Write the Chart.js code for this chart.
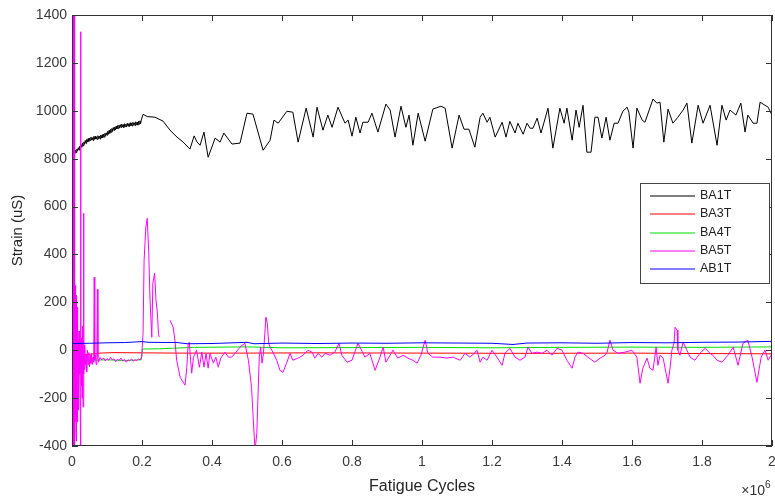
<!DOCTYPE html>
<html>
<head>
<meta charset="utf-8">
<script src="https://cdn.jsdelivr.net/npm/chart.js@4.4.0/dist/chart.umd.min.js"></script>
<style>
  html, body { margin: 0; padding: 0; background: #fff; }
  canvas { display: block; }
</style>
</head>
<body>
<canvas id="strainChart" width="775" height="500"></canvas>
<script>
// fatigue cycles are in units of 10^6
var xTicks = [0, 0.2, 0.4, 0.6, 0.8, 1, 1.2, 1.4, 1.6, 1.8, 2];
var xTickLabels = ['0', '0.2', '0.4', '0.6', '0.8', '1', '1.2', '1.4', '1.6', '1.8', '2'];
var yTicks = [-400, -200, 0, 200, 400, 600, 800, 1000, 1200, 1400];
var yTickLabels = ['-400', '-200', '0', '200', '400', '600', '800', '1000', '1200', '1400'];

var seriesNames = ['BA1T', 'BA3T', 'BA4T', 'BA5T', 'AB1T'];
var seriesColors = ['#000000', '#ff0000', '#00e000', '#ff00ff', '#0000ff'];

var ba1tCycles = [
    0, 0.0015,
    0.004, 0.006, 0.008, 0.010, 0.012, 0.014, 0.016, 0.018, 0.020, 0.022,
    0.024, 0.026, 0.028, 0.030, 0.032, 0.034, 0.036, 0.038, 0.040, 0.042,
    0.044, 0.046, 0.048, 0.050, 0.052, 0.054, 0.056, 0.058, 0.060, 0.062,
    0.064, 0.066, 0.068, 0.070, 0.072, 0.074, 0.076, 0.078, 0.080, 0.082,
    0.084, 0.086, 0.088, 0.090, 0.092, 0.094, 0.096, 0.098, 0.100, 0.102,
    0.104, 0.106, 0.108, 0.110, 0.112, 0.114, 0.116, 0.118, 0.120, 0.122,
    0.124, 0.126, 0.128, 0.130, 0.132, 0.134, 0.136, 0.138, 0.140, 0.142,
    0.144, 0.146, 0.148, 0.150, 0.152, 0.154, 0.156, 0.158, 0.160, 0.162,
    0.164, 0.166, 0.168, 0.170, 0.172, 0.174, 0.176, 0.178, 0.180, 0.182,
    0.184, 0.186, 0.188, 0.190, 0.192, 0.194, 0.196, 0.198,
    0.203, 0.215, 0.237, 0.260, 0.280, 0.300, 0.317, 0.337, 0.349, 0.357, 0.366,
    0.377, 0.389, 0.409, 0.423, 0.434, 0.457, 0.480, 0.500, 0.517, 0.546,
    0.566, 0.577, 0.589, 0.614, 0.631, 0.646, 0.669, 0.689, 0.700, 0.717,
    0.731, 0.743, 0.760, 0.780, 0.789, 0.800, 0.811, 0.823, 0.831, 0.846,
    0.857, 0.874, 0.897, 0.909, 0.923, 0.940, 0.954, 0.963, 0.974, 0.989,
    1.009, 1.031, 1.054, 1.066, 1.086, 1.106, 1.120, 1.134, 1.151, 1.166,
    1.174, 1.186, 1.194, 1.209, 1.229, 1.240, 1.251, 1.266, 1.274, 1.289,
    1.300, 1.309, 1.317, 1.329, 1.340, 1.360, 1.374, 1.394, 1.406, 1.414,
    1.429, 1.440, 1.449, 1.460, 1.471, 1.483, 1.494, 1.503, 1.514, 1.526,
    1.537, 1.549, 1.560, 1.574, 1.586, 1.591, 1.603, 1.614, 1.629, 1.637,
    1.660, 1.671, 1.680, 1.691, 1.703, 1.717, 1.731, 1.746, 1.757, 1.771,
    1.789, 1.803, 1.823, 1.843, 1.857, 1.869, 1.880, 1.897, 1.911, 1.923,
    1.931, 1.946, 1.957, 1.966, 1.980, 1.989, 2.000
];
var ba1tStrain = [
    830, 710,
    818, 830, 822, 836, 826, 840, 832, 846, 836, 852,
    842, 858, 848, 866, 854, 870, 860, 876, 864, 880,
    870, 884, 872, 886, 876, 890, 878, 888, 876, 892,
    880, 894, 882, 890, 880, 896, 884, 894, 882, 898,
    886, 900, 888, 902, 890, 906, 894, 908, 898, 914,
    902, 918, 906, 922, 910, 926, 914, 930, 918, 932,
    920, 936, 924, 938, 926, 940, 928, 942, 930, 944,
    932, 942, 930, 946, 934, 944, 932, 948, 936, 946,
    934, 950, 938, 948, 936, 952, 940, 950, 938, 954,
    942, 952, 940, 956, 944, 958, 946, 962,
    985, 976, 973, 957, 919, 890, 870, 840, 895, 870, 856,
    911, 806, 886, 869, 907, 861, 865, 990, 986, 835,
    877, 961, 948, 998, 994, 869, 1011, 890, 1015, 919,
    982, 931, 1015, 948, 961, 894, 973, 907, 952, 952,
    990, 911, 1028, 1003, 890, 1019, 931, 982, 856, 990,
    873, 1007, 1019, 1011, 844, 982, 923, 923, 848, 973,
    990, 952, 973, 890, 952, 890, 956, 907, 948, 902,
    948, 927, 927, 969, 907, 1011, 844, 1011, 948, 1011,
    877, 1003, 931, 1023, 827, 827, 973, 973, 886, 973,
    877, 948, 948, 998, 1015, 994, 844, 1011, 961, 952,
    1049, 1032, 1036, 869, 1007, 948, 973, 1003, 1032, 865,
    1023, 948, 1023, 856, 1023, 961, 1003, 982, 1032, 911,
    982, 948, 948, 1036, 1023, 1015, 982
];

var ba3tCycles = [0, 0.04, 0.08, 0.12, 0.2, 0.3, 0.5, 0.7, 1.0, 1.3, 1.6, 1.8, 2.0];
var ba3tStrain = [-25, -18, -12, -10, -11, -12, -12, -11, -12, -13, -12, -14, -15];

var ba4tCycles = [0, 0.004, 0.01, 0.05, 0.1, 0.15, 0.198, 0.202, 0.25, 0.35, 0.5, 0.6, 0.8, 1.0, 1.2, 1.4, 1.6, 1.8, 2.0];
var ba4tStrain = [-90, -40, -45, -42, -40, -43, -40, 5, 6, 12, 14, 10, 11, 12, 10, 12, 13, 12, 14];

var ba5tCycles = [
    0, 0.001, 0.0015, 0.002, 0.0025, 0.003, 0.0035, 0.004, 0.0045, 0.005,
    0.0055, 0.006, 0.0065, 0.007, 0.0075, 0.008, 0.0085, 0.009, 0.0095, 0.010,
    0.0105, 0.011, 0.0115, 0.012, 0.0125, 0.013, 0.0135, 0.014, 0.0145, 0.015,
    0.0155, 0.016, 0.0165, 0.017, 0.0175, 0.018, 0.019, 0.020, 0.021, 0.022,
    0.023, 0.0245, 0.025, 0.0255, 0.026, 0.027, 0.028, 0.029, 0.030, 0.0315,
    0.033, 0.034, 0.035, 0.036, 0.037, 0.038, 0.040, 0.042, 0.044, 0.046,
    0.048, 0.050, 0.052, 0.054, 0.056, 0.058, 0.060, 0.062, 0.0635, 0.065,
    0.067, 0.069, 0.071, 0.0725, 0.074, 0.076, 0.08, 0.085, 0.09, 0.095,
    0.1, 0.105, 0.11, 0.115, 0.12, 0.125, 0.13, 0.135, 0.14, 0.145,
    0.15, 0.155, 0.16, 0.165, 0.17, 0.175, 0.18, 0.185, 0.19, 0.195,
    0.199, 0.203, 0.206, 0.211, 0.215, 0.219, 0.223, 0.228, 0.231, 0.236,
    0.240, 0.244, 0.247, 0.249, 0.265,
    0.280, 0.289, 0.294, 0.299, 0.309, 0.323, 0.328, 0.332, 0.335, 0.339,
    0.342, 0.347, 0.356, 0.364, 0.371, 0.377, 0.383, 0.389, 0.394, 0.404,
    0.411, 0.418, 0.425, 0.437, 0.447, 0.456, 0.466, 0.480, 0.494, 0.504,
    0.513, 0.518, 0.523, 0.528, 0.531, 0.535, 0.539, 0.543, 0.547, 0.551,
    0.554, 0.558, 0.562, 0.566, 0.571, 0.585, 0.594, 0.603, 0.614, 0.623,
    0.631, 0.646, 0.660, 0.674, 0.686, 0.694, 0.703, 0.714, 0.723, 0.737,
    0.751, 0.763, 0.771, 0.786, 0.800, 0.817, 0.823, 0.837, 0.851, 0.866,
    0.880, 0.889, 0.897, 0.909, 0.917, 0.931, 0.946, 0.960, 0.974, 0.986,
    0.997, 1.009, 1.017, 1.031, 1.051, 1.071, 1.089, 1.109, 1.123, 1.137,
    1.149, 1.157, 1.166, 1.174, 1.186, 1.200, 1.214, 1.229, 1.237, 1.251,
    1.266, 1.280, 1.294, 1.303, 1.314, 1.329, 1.343, 1.357, 1.371, 1.386,
    1.400, 1.414, 1.429, 1.437, 1.446, 1.460, 1.474, 1.494, 1.509, 1.523,
    1.529, 1.537, 1.546, 1.560, 1.580, 1.600, 1.614, 1.623, 1.631, 1.643,
    1.651, 1.660, 1.669, 1.674, 1.680, 1.689, 1.703, 1.709, 1.714, 1.720,
    1.723, 1.729, 1.731, 1.737, 1.746, 1.757, 1.766, 1.780, 1.794, 1.809,
    1.823, 1.831, 1.843, 1.857, 1.874, 1.889, 1.903, 1.917, 1.931, 1.943,
    1.957, 1.969, 1.980, 1.989, 1.997
];
var ba5tStrain = [
    100, 1450, -450, 1450, -450, 1450, -450, 1450, -450, 1450,
    -450, 1450, -450, 1100, -450, 800, -380, 270, -300, 200,
    -250, 150, -350, 120, -200, 230, -380, 100, -150, 180,
    -300, 60, -200, 120, -120, 40, -250, 80, -100, 30,
    -180, -450, 1330, -100, 0, -150, 50, -200, 100, -237,
    572, -100, 20, -80, 10, -60, -20, -90, 0, -60,
    -10, -70, -20, -55, -15, -60, -30, -50, 305, -40,
    -20, -60, -30, 254, -30, -50, -30, -40, -32, -45,
    -35, -42, -30, -40, -36, -48, -38, -42, -33, -45,
    -38, -50, -40, -44, -36, -46, -40, -43, -37, -40,
    -28, 71, 376, 514, 551, 418, 209, 54, 280, 322,
    209, 155, 71, 55, null,
    125, 97, 42, -42, -113, -146, -71, 29, 33, -42,
    -96, -29, 0, -71, -8, -71, -13, -75, -13, -54,
    -29, -71, -33, -8, -29, -29, -13, 13, 29, -42,
    -155, -292, -420, -347, -209, -29, 13, -54, -13, 71,
    138, 113, 29, 13, 0, -42, -84, -92, -50, -13,
    -42, -33, -21, 0, -8, -33, -13, -29, -13, -21,
    -8, 29, -21, -50, -42, 29, 13, -29, -13, -84,
    -29, 13, -50, -21, 0, -33, -21, -33, -42, -54,
    -21, 42, -13, -29, -29, -33, -29, -42, -13, -29,
    -13, 0, -50, -29, -42, 0, -29, -63, -13, 8,
    -29, -42, -29, 13, -13, -8, -13, 0, -21, 8,
    0, -42, -75, -29, -8, -13, -29, -50, -33, -21,
    -8, 42, 0, -13, -8, 0, -29, -138, -75, -33,
    -75, -84, 13, -63, -21, -33, -138, -71, 0, 29,
    96, 84, 0, -21, 33, 0, -29, -42, -13, 8,
    -13, -21, -42, -50, -21, 13, -63, 29, 42, -29,
    -134, -29, 0, -42, -21
];

var ab1tCycles = [0, 0.05, 0.1, 0.15, 0.2, 0.22, 0.3, 0.33, 0.4, 0.5, 0.52, 0.6, 0.7, 0.8, 0.9, 1.0, 1.1, 1.2, 1.26, 1.3, 1.4, 1.5, 1.6, 1.7, 1.8, 1.9, 2.0];
var ab1tStrain = [28, 29, 31, 32, 36, 33, 32, 27, 28, 33, 27, 30, 28, 30, 29, 31, 30, 29, 24, 30, 31, 29, 32, 31, 33, 34, 37];

function toPoints(xs, ys) {
    var pts = [];
    for (var i = 0; i < xs.length; i++) {
        pts.push({ x: xs[i], y: ys[i] });
    }
    return pts;
}

var seriesData = [
    toPoints(ba1tCycles, ba1tStrain),
    toPoints(ba3tCycles, ba3tStrain),
    toPoints(ba4tCycles, ba4tStrain),
    toPoints(ba5tCycles, ba5tStrain),
    toPoints(ab1tCycles, ab1tStrain)
];

var datasets = [];
for (var i = 0; i < seriesNames.length; i++) {
    datasets.push({
        label: seriesNames[i],
        data: seriesData[i],
        borderColor: seriesColors[i],
        backgroundColor: seriesColors[i],
        borderWidth: 1,
        pointRadius: 0,
        tension: 0,
        spanGaps: false,
        // later series are drawn on top, like the plotting order
        order: seriesNames.length - i
    });
}

var AXIS_COLOR = '#333333';
var FONT = '"Liberation Sans", Arial, sans-serif';

// box around the axes, inward ticks, legend and the exponent label
var axesBoxPlugin = {
    id: 'axesBox',
    afterDraw: function(chart) {
        var ctx = chart.ctx;
        var area = chart.chartArea;
        var xs = chart.scales.x;
        var ys = chart.scales.y;
        var tl = 6;

        ctx.save();
        ctx.strokeStyle = AXIS_COLOR;
        ctx.lineWidth = 1;
        ctx.strokeRect(area.left + 0.5, area.top + 0.5, area.right - area.left - 1, area.bottom - area.top - 1);

        ctx.beginPath();
        for (var i = 0; i < xTicks.length; i++) {
            var px = Math.round(xs.getPixelForValue(xTicks[i])) + 0.5;
            ctx.moveTo(px, area.bottom);
            ctx.lineTo(px, area.bottom - tl);
            ctx.moveTo(px, area.top);
            ctx.lineTo(px, area.top + tl);
        }
        for (var j = 0; j < yTicks.length; j++) {
            var py = Math.round(ys.getPixelForValue(yTicks[j])) + 0.5;
            ctx.moveTo(area.left, py);
            ctx.lineTo(area.left + tl, py);
            ctx.moveTo(area.right, py);
            ctx.lineTo(area.right - tl, py);
        }
        ctx.stroke();

        // legend
        var boxL = 640, boxT = 183, boxW = 129, boxH = 100;
        ctx.fillStyle = '#ffffff';
        ctx.fillRect(boxL, boxT, boxW, boxH);
        ctx.strokeStyle = '#444444';
        ctx.strokeRect(boxL + 0.5, boxT + 0.5, boxW, boxH);
        ctx.font = '12.5px ' + FONT;
        ctx.textAlign = 'left';
        ctx.textBaseline = 'middle';
        for (var k = 0; k < seriesNames.length; k++) {
            var rowY = Math.round(196 + k * 18.3);
            ctx.strokeStyle = seriesColors[k];
            ctx.lineWidth = 1.2;
            ctx.beginPath();
            ctx.moveTo(650, rowY);
            ctx.lineTo(695, rowY);
            ctx.stroke();
            ctx.fillStyle = '#222222';
            ctx.fillText(seriesNames[k], 700, rowY);
        }

        // x10^6 exponent
        ctx.fillStyle = '#333333';
        ctx.textBaseline = 'alphabetic';
        ctx.textAlign = 'right';
        ctx.font = '14px ' + FONT;
        ctx.fillText('\u00d710', 765, 495);
        ctx.textAlign = 'left';
        ctx.font = '10px ' + FONT;
        ctx.fillText('6', 765, 488);
        ctx.restore();
    }
};

var ctx = document.getElementById('strainChart').getContext('2d');
var strainChart = new Chart(ctx, {
    type: 'line',
    data: { datasets: datasets },
    options: {
        responsive: false,
        animation: false,
        layout: { padding: { top: 15, right: 3, left: 0, bottom: 0 } },
        plugins: {
            legend: { display: false },
            tooltip: { enabled: false }
        },
        scales: {
            x: {
                type: 'linear',
                min: 0,
                max: 2,
                grid: { display: false, drawTicks: false },
                border: { display: false },
                afterBuildTicks: function(scale) {
                    scale.ticks = xTicks.map(function(v) { return { value: v }; });
                },
                afterFit: function(scale) {
                    scale.height = 54;
                    scale.paddingLeft = 0;
                    scale.paddingRight = 0;
                },
                ticks: {
                    padding: 8,
                    maxRotation: 0,
                    autoSkip: false,
                    color: '#3a3a3a',
                    font: { family: FONT, size: 14 },
                    callback: function(value, index) {
                        return xTickLabels[index];
                    }
                },
                title: {
                    display: true,
                    text: 'Fatigue Cycles',
                    color: '#262626',
                    font: { family: FONT, size: 16 },
                    padding: { top: 0, bottom: 4 }
                }
            },
            y: {
                type: 'linear',
                min: -400,
                max: 1400,
                grid: { display: false, drawTicks: false },
                border: { display: false },
                afterBuildTicks: function(scale) {
                    scale.ticks = yTicks.map(function(v) { return { value: v }; });
                },
                afterFit: function(scale) {
                    scale.width = 72;
                    scale.paddingTop = 0;
                    scale.paddingBottom = 0;
                },
                ticks: {
                    padding: 5,
                    autoSkip: false,
                    color: '#3a3a3a',
                    font: { family: FONT, size: 14 },
                    callback: function(value, index) {
                        return yTickLabels[index];
                    }
                },
                title: {
                    display: true,
                    text: 'Strain (uS)',
                    color: '#262626',
                    font: { family: FONT, size: 15 },
                    padding: { top: 9, bottom: 0 }
                }
            }
        }
    },
    plugins: [axesBoxPlugin]
});
</script>
</body>
</html>
